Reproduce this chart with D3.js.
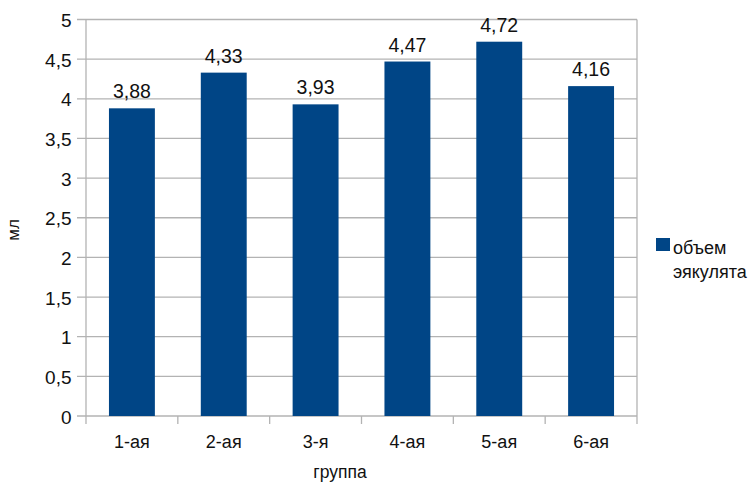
<!DOCTYPE html>
<html>
<head>
<meta charset="utf-8">
<script src="https://cdn.jsdelivr.net/npm/d3@7"></script>
<style>
  body { margin: 0; background: #fff; }
  svg { font-family: "Liberation Sans", Arial, sans-serif; }
</style>
</head>
<body>
<svg id="chart"></svg>
<script>
// данные
const groups = ["1-ая", "2-ая", "3-я", "4-ая", "5-ая", "6-ая"];
const volume = [3.88, 4.33, 3.93, 4.47, 4.72, 4.16];
const yTicks = [0, 0.5, 1, 1.5, 2, 2.5, 3, 3.5, 4, 4.5, 5];
const seriesName = ["объем", "эякулята"];

const W = 753, H = 484;
const margin = { top: 19.5, right: 116, bottom: 68, left: 86 };
const width = W - margin.left - margin.right;
const height = H - margin.top - margin.bottom;

const fmt = v => String(v).replace(".", ",");

const svg = d3.select("#chart").attr("width", W).attr("height", H);
const g = svg.append("g").attr("transform", "translate(" + margin.left + "," + margin.top + ")");

const x = d3.scaleBand().domain(groups).range([0, width]).paddingInner(0.5).paddingOuter(0.25);
const xb = d3.scaleBand().domain(groups).range([0, width]);
const y = d3.scaleLinear().domain([0, 5]).range([height, 0]);

// сетка
g.selectAll(".grid").data(yTicks).enter().append("line")
  .attr("x1", -9).attr("x2", width)
  .attr("y1", d => y(d)).attr("y2", d => y(d))
  .attr("stroke", "#b3b3b3").attr("stroke-width", 1.3);

// вертикальная рамка
g.append("line").attr("x1", 0).attr("x2", 0).attr("y1", 0).attr("y2", height + 8)
  .attr("stroke", "#b3b3b3").attr("stroke-width", 1.3);
g.append("line").attr("x1", width).attr("x2", width).attr("y1", 0).attr("y2", height + 8)
  .attr("stroke", "#b3b3b3").attr("stroke-width", 1.3);
g.selectAll(".xtick").data(groups.slice(1)).enter().append("line")
  .attr("x1", d => xb(d)).attr("x2", d => xb(d))
  .attr("y1", height).attr("y2", height + 8)
  .attr("stroke", "#b3b3b3").attr("stroke-width", 1.3);

// подписи оси Y
g.selectAll(".ylab").data(yTicks).enter().append("text")
  .attr("x", -14.5).attr("y", d => y(d) + 7.5)
  .attr("text-anchor", "end").attr("font-size", 19).attr("fill", "#111")
  .text(fmt);

// подписи оси X
g.selectAll(".xlab").data(groups).enter().append("text")
  .attr("x", d => xb(d) + xb.bandwidth() / 2).attr("y", height + 32)
  .attr("text-anchor", "middle").attr("font-size", 18).attr("fill", "#111")
  .text(d => d);

// столбцы
g.selectAll(".bar").data(volume).enter().append("rect")
  .attr("x", (d, i) => x(groups[i]))
  .attr("y", d => y(d))
  .attr("width", x.bandwidth())
  .attr("height", d => height - y(d))
  .attr("fill", "#004586");

// значения
g.selectAll(".val").data(volume).enter().append("text")
  .attr("x", (d, i) => x(groups[i]) + x.bandwidth() / 2)
  .attr("y", d => y(d) - 10)
  .attr("text-anchor", "middle").attr("font-size", 19.5).attr("fill", "#111")
  .text(fmt);

// названия осей
svg.append("text").attr("x", 340).attr("y", 478)
  .attr("text-anchor", "middle").attr("font-size", 17.5).attr("fill", "#111").text("группа");
svg.append("text").attr("transform", "translate(18.5,230) rotate(-90)")
  .attr("text-anchor", "middle").attr("font-size", 17).attr("fill", "#111").text("мл");

// легенда
svg.append("rect").attr("x", 656).attr("y", 238).attr("width", 14).attr("height", 13).attr("fill", "#004586");
svg.append("text").attr("x", 673).attr("y", 254).attr("font-size", 18).attr("fill", "#111").text(seriesName[0]);
svg.append("text").attr("x", 673).attr("y", 278).attr("font-size", 18).attr("fill", "#111").text(seriesName[1]);
</script>
</body>
</html>
